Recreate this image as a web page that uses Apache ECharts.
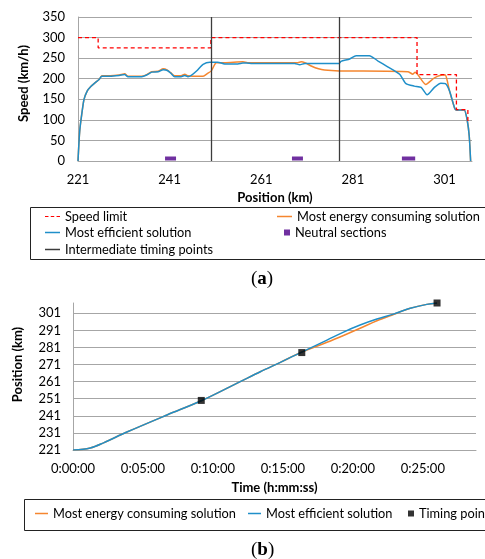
<!DOCTYPE html>
<html>
<head>
<meta charset="utf-8">
<script src="https://cdn.jsdelivr.net/npm/echarts@6/dist/echarts.min.js"></script>
<style>
html,body{margin:0;padding:0;background:#fff;}
#c{width:485px;height:559px;}
</style>
</head>
<body>
<div id="c"></div>
<script>
// ---------- Data: (a) speed profile ----------
const effKm    = [221.0,221.2,221.4,221.8,222.3,223.0,223.8,224.7,225.6,226.2,228.0,230.0,231.2,231.9,234.9,236.0,237.1,238.5,239.6,240.5,241.3,242.1,243.5,244.3,245.0,245.8,247.0,248.3,249.8,251.5,253.0,255.9,257.0,257.8,259.0,268.3,269.4,270.5,278.0,278.4,280.3,281.7,284.6,286.5,288.6,291.2,292.6,294.4,295.9,297.2,298.8,300.2,301.2,302.1,303.2,303.6,305.3,306.0,306.4,306.7];
const effSpeed = [0,43,76,112,149,170,181,190,198,206,206,208,210,205,205,209,216,217,222,220,213,205,205,208,205,209,220,235,240,240,236,236,238,238,237,237,234,237,237,242,248,256,256,243,229,211,188,182,179,161,179,189,188,170,129,124,124,96,60,0];

const consKm    = [221.0,221.2,221.4,221.8,222.3,223.0,223.8,224.7,225.6,226.2,228.0,230.0,231.2,231.9,234.9,236.0,237.1,238.5,239.6,240.5,241.3,242.1,243.5,244.3,245.0,246.0,248.3,249.3,250.1,251.2,253.0,257.0,258.0,269.0,269.7,270.5,271.9,273.5,274.8,278.0,293.0,294.1,294.6,295.1,296.9,298.8,300.6,301.2,301.7,302.1,303.2,303.6,305.3,306.0,306.4,306.7];
const consSpeed = [0,43,76,112,149,170,181,190,198,207,207,209,212,206,206,210,217,218,224,221,214,207,207,211,207,206,206,213,219,239,239,241,239,239,241,239,231,224,221,219,217,211,216,211,186,202,209,209,190,170,129,124,124,96,60,0];

const limitKm    = [221, 225.4, 250, 295, 303.6, 306.1];
const limitSpeed = [300, 275, 300, 210, 125];
const limitEndSpeed = 95;

const timingKm = [250, 278];
const neutralStartKm = [240.0, 267.7, 291.7];
const neutralEndKm   = [242.4, 270.1, 294.6];

// ---------- Data: (b) position vs time ----------
const effTime = [0, 74, 131, 231, 403, 550, 717, 803, 889, 981, 1089, 1160, 1231, 1303, 1374, 1446, 1517, 1561];
const effPos  = [221, 222.2, 225.2, 231.5, 241.5, 249.8, 261.0, 266.8, 272.3, 278.3, 285.3, 290.0, 294.1, 297.6, 300.5, 303.9, 306.2, 307.0];
const consTime = [0, 74, 131, 231, 403, 550, 717, 803, 889, 981, 1089, 1160, 1231, 1303, 1374, 1446, 1517, 1561];
const consPos  = [221, 222.2, 225.2, 231.5, 241.5, 249.8, 261.0, 266.8, 272.3, 278.3, 284.0, 288.0, 292.2, 296.6, 300.3, 303.9, 306.2, 307.0];
const timingTime = [550, 981, 1561];
const timingPos  = [250, 278, 307];

// ---------- Build ----------
const zip = (a, b) => a.map((v, i) => [v, b[i]]);
const limitData = [];
for (let i = 0; i < limitSpeed.length; i++) {
  limitData.push([limitKm[i], limitSpeed[i]]);
  limitData.push([limitKm[i + 1], limitSpeed[i]]);
}
limitData.push([limitKm[limitKm.length - 1], limitEndSpeed]);
const neutralData = neutralStartKm.map((s, i) => [s, neutralEndKm[i]]);

const FONT = 'Lato';
const BLUE = '#1f8fc9', ORANGE = '#f5862f', RED = '#ff0000', PURPLE = '#7030a0', DARK = '#3c3c3c';
const GRID = '#a6a6a6';
const txt = { fontFamily: FONT, fontSize: 13, color: '#000' };
const DASH_ICON = 'path://M0,0h3v1h-3z M5,0h3v1h-3z M10,0h3v1h-3z';

function fmtTime(s) {
  const h = Math.floor(s / 3600), m = Math.floor((s % 3600) / 60), sec = Math.round(s % 60);
  return h + ':' + String(m).padStart(2, '0') + ':' + String(sec).padStart(2, '0');
}

const legendBase = {
  orient: 'horizontal', selectedMode: false, itemHeight: 1.5,
  textStyle: { fontFamily: FONT, fontSize: 12.8, color: '#000' }, padding: 0
};
function lg(left, top, w, h, item) {
  return Object.assign({}, legendBase, { left: left, top: top, itemWidth: w, itemHeight: h, data: [item] });
}

const chart = echarts.init(document.getElementById('c'), null, { renderer: 'canvas' });
chart.setOption({
  animation: false,
  backgroundColor: '#fff',
  textStyle: { fontFamily: FONT },
  grid: [
    { left: 78, right: 13, top: 17, height: 144 },
    { left: 73, right: 9, top: 303, height: 147 }
  ],
  xAxis: [
    { type: 'value', gridIndex: 0, min: 221, max: 307, interval: 20,
      axisLine: { lineStyle: { color: GRID } }, axisTick: { show: false }, splitLine: { show: false },
      axisLabel: Object.assign({ margin: 12, showMaxLabel: false }, txt),
      name: 'Position (km)', nameLocation: 'middle', nameGap: 30,
      nameTextStyle: { fontFamily: FONT, fontSize: 13, fontWeight: 'bold', color: '#000' } },
    { type: 'value', gridIndex: 1, min: 0, max: 1728, interval: 300,
      axisLine: { lineStyle: { color: GRID } }, axisTick: { show: false }, splitLine: { show: false },
      axisLabel: Object.assign({ margin: 12, showMaxLabel: false, formatter: fmtTime }, txt),
      name: 'Time (h:mm:ss)', nameLocation: 'middle', nameGap: 31,
      nameTextStyle: { fontFamily: FONT, fontSize: 13, fontWeight: 'bold', color: '#000' } }
  ],
  yAxis: [
    { type: 'value', gridIndex: 0, min: 0, max: 350, interval: 50,
      axisLine: { show: true, lineStyle: { color: GRID } }, axisTick: { show: false },
      splitLine: { lineStyle: { color: GRID } },
      axisLabel: Object.assign({ margin: 13 }, txt),
      name: 'Speed (km/h)', nameLocation: 'middle', nameGap: 48,
      nameTextStyle: { fontFamily: FONT, fontSize: 13, fontWeight: 'bold', color: '#000', padding: [0, 0, 0, 11] } },
    { type: 'value', gridIndex: 1, min: 221, max: 307, interval: 10,
      axisLine: { show: true, lineStyle: { color: GRID } }, axisTick: { show: false },
      splitLine: { lineStyle: { color: GRID }, showMaxLine: false },
      axisLabel: Object.assign({ margin: 12, showMaxLabel: false }, txt),
      name: 'Position (km)', nameLocation: 'middle', nameGap: 49,
      nameTextStyle: { fontFamily: FONT, fontSize: 13, fontWeight: 'bold', color: '#000', padding: [0, 0, 0, 24] } }
  ],
  legend: [
    lg(45, 210, 15, 1.5, { name: 'Speed limit', icon: DASH_ICON }),
    lg(277, 210, 15, 1.5, { name: 'Most energy consuming solution', icon: 'rect' }),
    lg(45, 226, 15, 1.5, { name: 'Most efficient solution', icon: 'rect' }),
    lg(284, 226, 6, 6, { name: 'Neutral sections', icon: 'rect' }),
    lg(45, 243, 15, 1.5, { name: 'Intermediate timing points', icon: 'rect' }),
    lg(35, 507, 13, 1.5, { name: 'Most energy consuming solution ', icon: 'rect' }),
    lg(248, 507, 13, 1.5, { name: 'Most efficient solution ', icon: 'rect' }),
    lg(408, 507, 6, 6, { name: 'Timing points', icon: 'rect' })
  ],
  graphic: [
    { type: 'rect', shape: { x: 30.5, y: 207.5, width: 470, height: 52 }, style: { fill: 'none', stroke: '#222', lineWidth: 1 }, z: -1 },
    { type: 'rect', shape: { x: 24.5, y: 499.5, width: 480, height: 31 }, style: { fill: 'none', stroke: '#222', lineWidth: 1 }, z: -1 },
    { type: 'text', left: 251, top: 270, style: { text: '({b|a})', font: '19px "Liberation Serif"', fill: '#000',
      rich: { b: { fontFamily: 'Liberation Serif', fontSize: 19, fontWeight: 'bold', fill: '#000' } } } },
    { type: 'text', left: 251, top: 541, style: { text: '({b|b})', font: '19px "Liberation Serif"', fill: '#000',
      rich: { b: { fontFamily: 'Liberation Serif', fontSize: 19, fontWeight: 'bold', fill: '#000' } } } }
  ],
  series: [
    { name: 'Intermediate timing points', type: 'line', xAxisIndex: 0, yAxisIndex: 0, data: [],
      symbol: 'none', lineStyle: { color: DARK, width: 1.3 }, itemStyle: { color: DARK },
      markLine: { silent: true, symbol: 'none', label: { show: false },
        lineStyle: { color: DARK, width: 1.3, type: 'solid' },
        data: timingKm.map(k => ({ xAxis: k })) } },
    { name: 'Most energy consuming solution', type: 'line', xAxisIndex: 0, yAxisIndex: 0,
      data: zip(consKm, consSpeed), symbol: 'none', smooth: 0.2,
      lineStyle: { color: ORANGE, width: 1.5 }, itemStyle: { color: ORANGE } },
    { name: 'Most efficient solution', type: 'line', xAxisIndex: 0, yAxisIndex: 0,
      data: zip(effKm, effSpeed), symbol: 'none', smooth: 0.2,
      lineStyle: { color: BLUE, width: 1.5 }, itemStyle: { color: BLUE } },
    { name: 'Speed limit', type: 'line', xAxisIndex: 0, yAxisIndex: 0,
      data: limitData, symbol: 'none',
      lineStyle: { color: RED, width: 1.3, type: [4, 3] }, itemStyle: { color: RED } },
    { name: 'Neutral sections', type: 'custom', xAxisIndex: 0, yAxisIndex: 0,
      data: neutralData, encode: { x: [0, 1] }, itemStyle: { color: PURPLE },
      renderItem: function (params, api) {
        const s = api.coord([api.value(0), 0]);
        const e = api.coord([api.value(1), 0]);
        return { type: 'rect', shape: { x: s[0], y: s[1] - 4.5, width: e[0] - s[0], height: 4 }, style: { fill: PURPLE } };
      } },
    { name: 'Most energy consuming solution ', type: 'line', xAxisIndex: 1, yAxisIndex: 1,
      data: zip(consTime, consPos), symbol: 'none', smooth: 0.35,
      lineStyle: { color: ORANGE, width: 1.5 }, itemStyle: { color: ORANGE } },
    { name: 'Most efficient solution ', type: 'line', xAxisIndex: 1, yAxisIndex: 1,
      data: zip(effTime, effPos), symbol: 'none', smooth: 0.35,
      lineStyle: { color: BLUE, width: 1.5 }, itemStyle: { color: BLUE } },
    { name: 'Timing points', type: 'scatter', xAxisIndex: 1, yAxisIndex: 1, clip: false,
      data: zip(timingTime, timingPos), symbol: 'rect', symbolSize: 7, itemStyle: { color: '#000' }, z: 5 }
  ]
});
</script>
</body>
</html>
